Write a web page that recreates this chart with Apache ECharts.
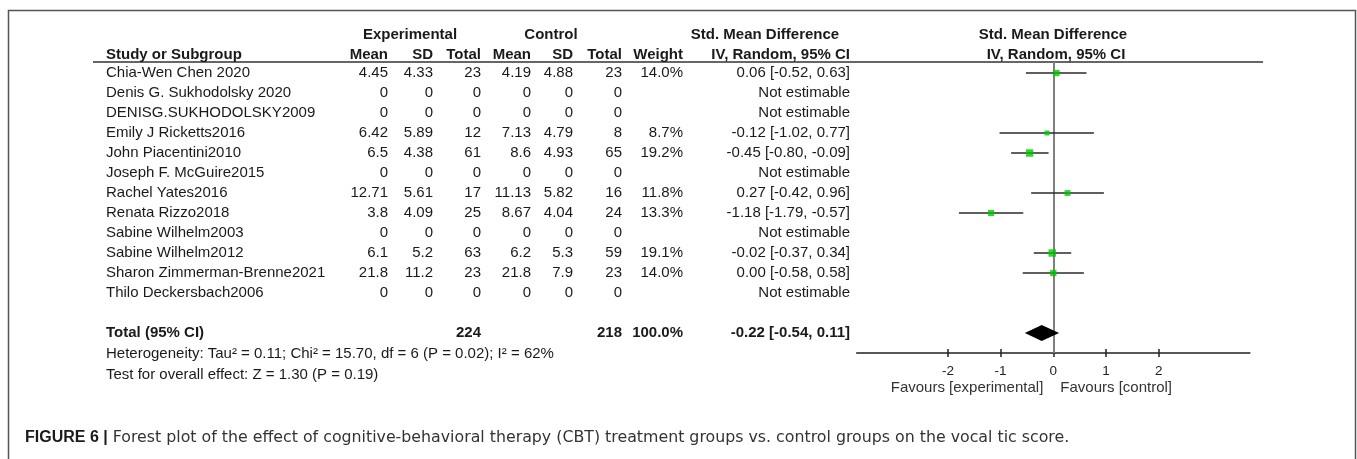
<!DOCTYPE html>
<html>
<head>
<meta charset="utf-8">
<script src="https://cdn.jsdelivr.net/npm/echarts@6/dist/echarts.min.js"></script>
<style>
html,body{margin:0;padding:0;background:#fff;}
#chart{width:1357px;height:459px;}
</style>
</head>
<body>
<div id="chart"></div>
<script>
// ---------------- data ----------------
const studies = ["Chia-Wen Chen 2020","Denis G. Sukhodolsky 2020","DENISG.SUKHODOLSKY2009","Emily J Ricketts2016","John Piacentini2010","Joseph F. McGuire2015","Rachel Yates2016","Renata Rizzo2018","Sabine Wilhelm2003","Sabine Wilhelm2012","Sharon Zimmerman-Brenne2021","Thilo Deckersbach2006"];
const expMean  = [4.45, 0, 0, 6.42, 6.5, 0, 12.71, 3.8, 0, 6.1, 21.8, 0];
const expSD    = [4.33, 0, 0, 5.89, 4.38, 0, 5.61, 4.09, 0, 5.2, 11.2, 0];
const expN     = [23, 0, 0, 12, 61, 0, 17, 25, 0, 63, 23, 0];
const ctrlMean = [4.19, 0, 0, 7.13, 8.6, 0, 11.13, 8.67, 0, 6.2, 21.8, 0];
const ctrlSD   = [4.88, 0, 0, 4.79, 4.93, 0, 5.82, 4.04, 0, 5.3, 7.9, 0];
const ctrlN    = [23, 0, 0, 8, 65, 0, 16, 24, 0, 59, 23, 0];
const weight   = [14.0, null, null, 8.7, 19.2, null, 11.8, 13.3, null, 19.1, 14.0, null];
const smd      = [0.06, null, null, -0.12, -0.45, null, 0.27, -1.18, null, -0.02, 0.00, null];
const ciLow    = [-0.52, null, null, -1.02, -0.80, null, -0.42, -1.79, null, -0.37, -0.58, null];
const ciHigh   = [0.63, null, null, 0.77, -0.09, null, 0.96, -0.57, null, 0.34, 0.58, null];
const totalLabel = "Total (95% CI)";
const totalN = [224, 218];
const totalWeight = 100.0;
const totalEffect = [-0.22, -0.54, 0.11]; // estimate, lower, upper
const heterogeneityText = "Heterogeneity: Tau\u00B2 = 0.11; Chi\u00B2 = 15.70, df = 6 (P = 0.02); I\u00B2 = 62%";
const overallText = "Test for overall effect: Z = 1.30 (P = 0.19)";
const favoursLabels = ["Favours [experimental]", "Favours [control]"];
const xTicks = [-2, -1, 0, 1, 2];
const headerTop = ["Experimental", "Control", "Std. Mean Difference", "Std. Mean Difference"];
const headerCols = ["Study or Subgroup", "Mean", "SD", "Total", "Mean", "SD", "Total", "Weight", "IV, Random, 95% CI", "IV, Random, 95% CI"];
const captionBold = "FIGURE 6 |";
const captionText = " Forest plot of the effect of cognitive-behavioral therapy (CBT) treatment groups vs. control groups on the vocal tic score.";

// ---------------- layout ----------------
const FONT = '"Liberation Sans", Arial, Helvetica, sans-serif';
const CAPFONT = '"DejaVu Sans", "Liberation Sans", sans-serif';
const TXT = '#1a1a1a';
const COL = {name: 106, expMean: 388, expSD: 433, expN: 481, ctrlMean: 531, ctrlSD: 573, ctrlN: 622, weight: 683, ci: 850};
const fmt2 = v => v.toFixed(2);
const ciText = (m, l, h) => fmt2(m) + " [" + fmt2(l) + ", " + fmt2(h) + "]";

const rowsSpec = [];
rowsSpec.push({row: -1.9, bold: true, size: 15, cells: [
  {t: headerTop[0], x: 410, a: 'center'},
  {t: headerTop[1], x: 551, a: 'center'},
  {t: headerTop[2], x: 765, a: 'center'},
  {t: headerTop[3], x: 1053, a: 'center'}
]});
rowsSpec.push({row: -0.9, bold: true, size: 15, cells: [
  {t: headerCols[0], x: COL.name, a: 'left'},
  {t: headerCols[1], x: COL.expMean, a: 'right'},
  {t: headerCols[2], x: COL.expSD, a: 'right'},
  {t: headerCols[3], x: COL.expN, a: 'right'},
  {t: headerCols[4], x: COL.ctrlMean, a: 'right'},
  {t: headerCols[5], x: COL.ctrlSD, a: 'right'},
  {t: headerCols[6], x: COL.ctrlN, a: 'right'},
  {t: headerCols[7], x: COL.weight, a: 'right'},
  {t: headerCols[8], x: COL.ci, a: 'right'},
  {t: headerCols[9], x: 1056, a: 'center'}
]});
studies.forEach((name, i) => {
  rowsSpec.push({row: i, bold: false, size: 15, cells: [
    {t: name, x: COL.name, a: 'left'},
    {t: String(expMean[i]), x: COL.expMean, a: 'right'},
    {t: String(expSD[i]), x: COL.expSD, a: 'right'},
    {t: String(expN[i]), x: COL.expN, a: 'right'},
    {t: String(ctrlMean[i]), x: COL.ctrlMean, a: 'right'},
    {t: String(ctrlSD[i]), x: COL.ctrlSD, a: 'right'},
    {t: String(ctrlN[i]), x: COL.ctrlN, a: 'right'},
    {t: weight[i] == null ? "" : weight[i].toFixed(1) + "%", x: COL.weight, a: 'right'},
    {t: smd[i] == null ? "Not estimable" : ciText(smd[i], ciLow[i], ciHigh[i]), x: COL.ci, a: 'right'}
  ]});
});
const TOTAL_ROW = 13;
rowsSpec.push({row: TOTAL_ROW, bold: true, size: 15, cells: [
  {t: totalLabel, x: COL.name, a: 'left'},
  {t: String(totalN[0]), x: COL.expN, a: 'right'},
  {t: String(totalN[1]), x: COL.ctrlN, a: 'right'},
  {t: totalWeight.toFixed(1) + "%", x: COL.weight, a: 'right'},
  {t: ciText(totalEffect[0], totalEffect[1], totalEffect[2]), x: COL.ci, a: 'right'}
]});
rowsSpec.push({row: 14.05, bold: false, size: 15, cells: [{t: heterogeneityText, x: COL.name, a: 'left'}]});
rowsSpec.push({row: 15.1, bold: false, size: 15, cells: [{t: overallText, x: COL.name, a: 'left'}]});

const forestData = [];
studies.forEach((n, i) => { if (smd[i] != null) forestData.push([smd[i], i, ciLow[i], ciHigh[i], weight[i]]); });

const chart = echarts.init(document.getElementById('chart'), null, {renderer: 'canvas'});
chart.setOption({
  animation: false,
  backgroundColor: '#fff',
  grid: {left: 856.7, right: 107.1, top: 62, height: 291, outerBoundsMode: 'none', containLabel: false},
  xAxis: [{
    type: 'value', min: -3.73, max: 3.73, position: 'bottom',
    axisLine: {show: true, onZero: false, lineStyle: {color: '#222', width: 1.5}},
    axisTick: {show: true, length: 4, customValues: xTicks, lineStyle: {color: '#222', width: 1.5}},
    axisLabel: {show: true, customValues: xTicks, color: '#222', fontSize: 13.5, fontFamily: FONT, margin: 11},
    splitLine: {show: false}
  }, {
    type: 'value', min: -3.73, max: 3.73, position: 'bottom',
    axisLine: {show: false, onZero: false},
    axisTick: {show: true, inside: true, length: 4, customValues: xTicks, lineStyle: {color: '#222', width: 1.5}},
    axisLabel: {show: false},
    splitLine: {show: false}
  }],
  yAxis: {type: 'value', inverse: true, min: -0.55, max: 14, show: false},
  graphic: [
    {type: 'rect', shape: {x: 8.5, y: 10.5, width: 1347, height: 480}, style: {fill: 'none', stroke: '#555', lineWidth: 1.5}, z: 0},
    {type: 'line', shape: {x1: 93, y1: 62, x2: 1263, y2: 62}, style: {stroke: '#333', lineWidth: 1.5}, z: 1},
    {type: 'text', x: 25, y: 438, style: {
      text: '{b|' + captionBold + '}{n|' + captionText + '}',
      verticalAlign: 'middle', align: 'left',
      rich: {
        b: {fontWeight: 'bold', fontSize: 16, fontFamily: FONT, fill: '#1a1a1a'},
        n: {fontSize: 15.8, fontFamily: CAPFONT, fill: '#333'}
      }
    }}
  ],
  series: [
    {
      type: 'custom', name: 'table', clip: false, silent: true, z: 3,
      data: rowsSpec.map(r => [0, r.row]),
      renderItem: function (params, api) {
        const r = rowsSpec[params.dataIndex];
        const y = api.coord([0, api.value(1)])[1];
        return {type: 'group', children: r.cells.map(c => ({
          type: 'text', x: c.x, y: y,
          style: {text: c.t, fill: TXT, fontSize: r.size, fontFamily: FONT, fontWeight: r.bold ? 'bold' : 'normal', align: c.a, verticalAlign: 'middle'}
        }))};
      }
    },
    {
      type: 'custom', name: 'ci', clip: false, silent: true, z: 4,
      data: forestData,
      renderItem: function (params, api) {
        const p1 = api.coord([api.value(2), api.value(1)]);
        const p2 = api.coord([api.value(3), api.value(1)]);
        return {type: 'line', shape: {x1: p1[0], y1: p1[1], x2: p2[0], y2: p2[1]}, style: {stroke: '#2a2a2a', lineWidth: 1.3}};
      }
    },
    {
      type: 'scatter', name: 'effect', silent: true, z: 6,
      symbol: 'rect',
      symbolSize: v => 1.7 * Math.sqrt(v[4]),
      itemStyle: {color: '#00c800'},
      data: forestData,
      markLine: {
        silent: true, symbol: ['none', 'none'], label: {show: false}, z: 2,
        lineStyle: {color: '#808080', width: 2, type: 'solid'},
        data: [{xAxis: 0}]
      }
    },
    {
      type: 'custom', name: 'total', clip: false, silent: true, z: 6,
      data: [[totalEffect[0], TOTAL_ROW, totalEffect[1], totalEffect[2]]],
      renderItem: function (params, api) {
        const row = api.value(1);
        const pm = api.coord([api.value(0), row]);
        const pl = api.coord([api.value(2), row]);
        const ph = api.coord([api.value(3), row]);
        return {type: 'polygon', shape: {points: [[pl[0], pl[1]], [pm[0], pm[1] - 8], [ph[0], ph[1]], [pm[0], pm[1] + 8]]}, style: {fill: '#000'}};
      }
    },
    {
      type: 'custom', name: 'favours', clip: false, silent: true, z: 3,
      data: [[0, 15.75]],
      renderItem: function (params, api) {
        const p = api.coord([api.value(0), api.value(1)]);
        return {type: 'group', children: [
          {type: 'text', x: p[0] - 10, y: p[1], style: {text: favoursLabels[0], fill: '#333', fontSize: 15, fontFamily: FONT, align: 'right', verticalAlign: 'middle'}},
          {type: 'text', x: p[0] + 7, y: p[1], style: {text: favoursLabels[1], fill: '#333', fontSize: 15, fontFamily: FONT, align: 'left', verticalAlign: 'middle'}}
        ]};
      }
    }
  ]
});
</script>
</body>
</html>
